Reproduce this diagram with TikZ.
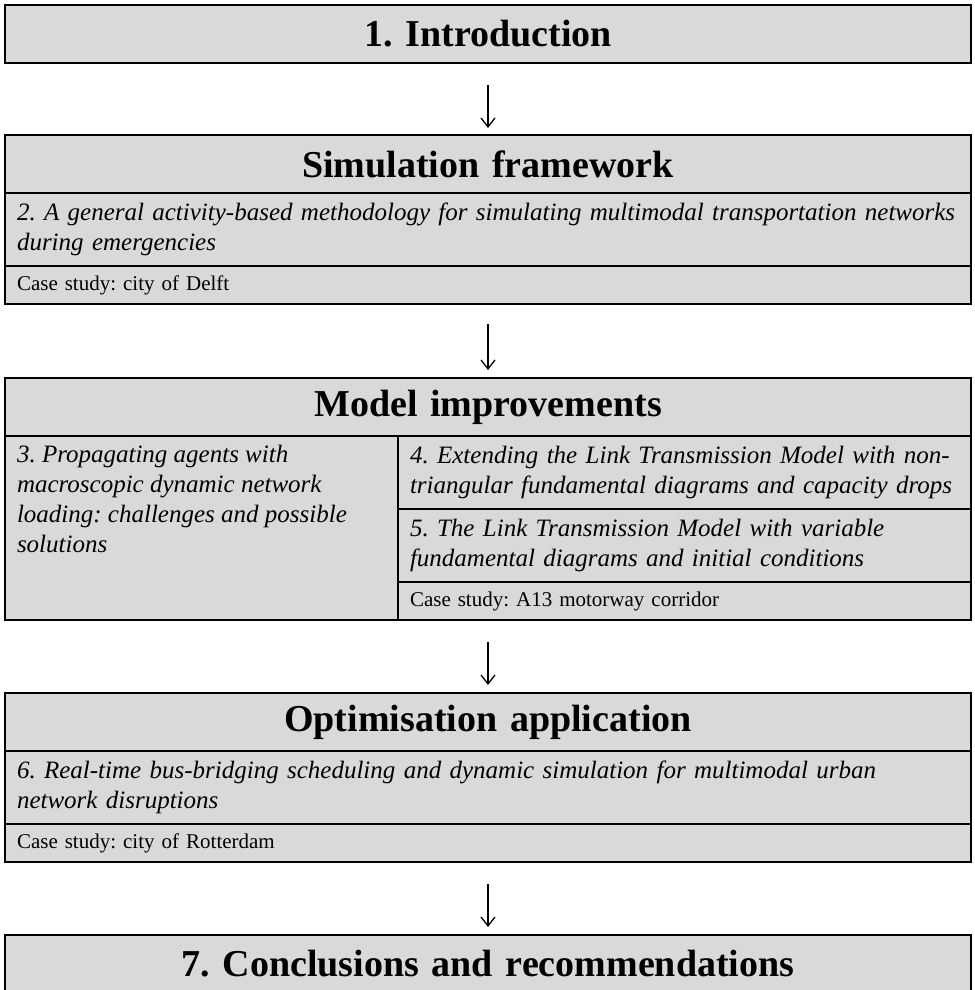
\documentclass[tikz,border=0pt]{standalone}
\usepackage{fontspec}
\setmainfont{Liberation Serif}
\usetikzlibrary{positioning,arrows.meta}
\definecolor{boxgray}{HTML}{D9D9D9}
\AtBeginDocument{\frenchspacing}

\begin{document}
\begin{tikzpicture}
    \tikzstyle{box}=[draw, fill=boxgray, line width=1.8pt, outer sep=0pt, inner xsep=12pt, inner ysep=0pt]
    \tikzstyle{hdr}=[box, text width=942pt, minimum height=58pt, align=center, font={\fontsize{38}{44}\selectfont\bfseries}]
    \tikzstyle{paper}=[box, text width=942pt, minimum height=73pt, align=left, font={\fontsize{25}{30}\selectfont\itshape}]
    \tikzstyle{casestudy}=[box, text width=942pt, minimum height=38pt, align=left, font={\fontsize{21}{25}\selectfont}]
    \tikzstyle{flow}=[line width=1.3pt, -{Straight Barb[length=9pt,width=14pt]}]
    \useasboundingbox (0,0) rectangle (974pt,-990pt);

    \node[hdr] (intro) at (488pt,-34pt) {1. Introduction};

    \node[hdr, below=72pt of intro] (simhdr) {Simulation framework};
    \node[paper, below=0pt of simhdr] (ch2) {2. A general activity-based methodology for simulating multimodal transportation networks\\during emergencies};
    \node[casestudy, below=0pt of ch2] (delft) {Case study: city of Delft};

    \node[hdr, below=74pt of delft] (modhdr) {Model improvements};
    \node[box, inner ysep=9pt, anchor=north west, font={\fontsize{25}{30}\selectfont\itshape}] (ch3) at (modhdr.south west)
        {\parbox[t][166pt][t]{369pt}{\raggedright 3. Propagating agents with\\macroscopic dynamic network\\loading: challenges and possible\\solutions}};
    \node[paper, text width=549pt, anchor=north west] (ch4) at (ch3.north east) {4. Extending the Link Transmission Model with non-\\triangular fundamental diagrams and capacity drops};
    \node[paper, text width=549pt, below=0pt of ch4] (ch5) {5. The Link Transmission Model with variable\\fundamental diagrams and initial conditions};
    \node[casestudy, text width=549pt, below=0pt of ch5] (a13) {Case study: A13 motorway corridor};
    \coordinate (modbot) at (modhdr.center |- ch3.south);

    \node[hdr, below=73pt of modbot] (opthdr) {Optimisation application};
    \node[paper, below=0pt of opthdr] (ch6) {6. Real-time bus-bridging scheduling and dynamic simulation for multimodal urban\\network disruptions};
    \node[casestudy, below=0pt of ch6] (rdam) {Case study: city of Rotterdam};

    \node[hdr, below=73pt of rdam] (concl) {7. Conclusions and recommendations};

    \draw[flow] ([yshift=-22pt]intro.south) -- ([yshift=7pt]simhdr.north);
    \draw[flow] ([yshift=-20pt]delft.south) -- ([yshift=8pt]modhdr.north);
    \draw[flow] ([yshift=-22pt]modbot) -- ([yshift=8pt]opthdr.north);
    \draw[flow] ([yshift=-22pt]rdam.south) -- ([yshift=8pt]concl.north);
\end{tikzpicture}
\end{document}
